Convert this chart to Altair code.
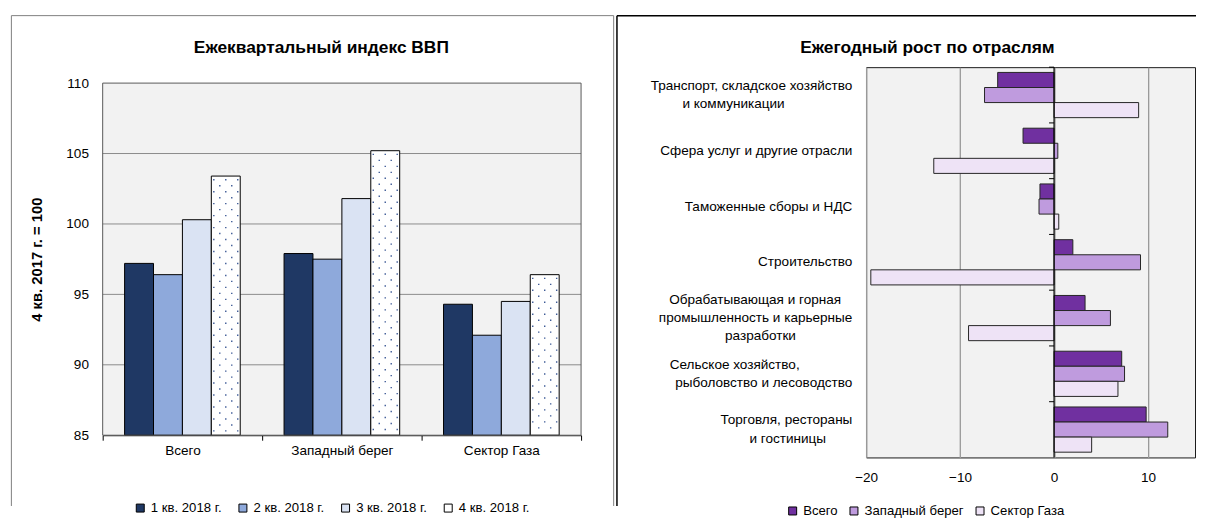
import altair as alt
import pandas as pd

FONT = "Liberation Sans, Arial, sans-serif"
FS = 13.6      # tick / axis label font size
FS_L = 13.2    # legend labels
FS_T = 17.4    # chart titles
FS_YT = 14.8   # y axis title
NB = "\u00a0"
ZW = "\u200b"

# ---------------- data: left chart ----------------
regions = ["Всего", "Западный берег", "Сектор Газа"]
quarters = ["1 кв. 2018 г.", "2 кв. 2018 г.", "3 кв. 2018 г.", "4 кв. 2018 г."]
q1_2018 = [97.2, 97.9, 94.3]
q2_2018 = [96.4, 97.5, 92.1]
q3_2018 = [100.3, 101.8, 94.5]
q4_2018 = [103.4, 105.2, 96.4]
quarter_colors = ["#1F3864", "#8EA9DB", "#DAE3F3", "#FFFFFF"]
y_ticks = [85, 90, 95, 100, 105, 110]

# ---------------- data: right chart ----------------
sector_lines = [
    ["Транспорт, складское хозяйство", "и коммуникации"],
    ["Сфера услуг и другие отрасли"],
    ["Таможенные сборы и НДС"],
    ["Строительство"],
    ["Обрабатывающая и горная", "промышленность и карьерные", "разработки"],
    ["Сельское хозяйство,", "рыболовство и лесоводство"],
    ["Торговля, рестораны", "и гостиницы"],
]
sectors = [" ".join(l) for l in sector_lines]
series = ["Всего", "Западный берег", "Сектор Газа"]
growth_total = [-6.0, -3.3, -1.5, 2.0, 3.3, 7.2, 9.8]
growth_west = [-7.4, 0.4, -1.6, 9.2, 6.0, 7.5, 12.1]
growth_gaza = [9.0, -12.8, 0.5, -19.5, -9.1, 6.8, 4.0]
series_colors = ["#7030A0", "#BF9BDE", "#EEE3F6"]

# trailing no-break spaces that centre the shorter wrapped lines (layout only)
line_indent = {
    "и коммуникации": 18,
    "Обрабатывающая и горная": 3,
    "разработки": 15,
    "Сельское хозяйство,": 14,
    "и гостиницы": 7,
}

left_rows = []
for vals, q in zip([q1_2018, q2_2018, q3_2018, q4_2018], quarters):
    for r, v in zip(regions, vals):
        left_rows.append({"region": r, "quarter": q, "value": v})
df_left = pd.DataFrame(left_rows)
df_q4 = df_left[df_left["quarter"] == quarters[3]]
df_grid = pd.DataFrame({"tick": y_ticks[1:-1]})

right_rows = []
for vals, s in zip([growth_total, growth_west, growth_gaza], series):
    for sec, v in zip(sectors, vals):
        right_rows.append({"sector": sec, "series": s, "value": v})
df_right = pd.DataFrame(right_rows)
df_sectors = pd.DataFrame({"sector": sectors})

one = alt.Data(values=[{"k": 1}])

# ---------------- layout (absolute page px) ----------------
FRAME_L, FRAME_T, DIVIDER, FRAME_R, FRAME_B = 10.7, 14.0, 615.0, 1196.0, 506.0
LX, LY, LW, LH = 102.3, 81.7, 480.0, 353.3
RX, RY, RW, RH = 865.0, 65.7, 330.0, 391.6
OY = RY             # common view origin (both panels)
D = LY - OY         # left plot starts D px below its view origin
TITLE_Y = 46.7
LINE_H = 18.3


def frame(x0, y0, color, width, segs):
    layers = []
    for (xa, ya, xb, yb) in segs:
        layers.append(
            alt.Chart(one).mark_rule(color=color, strokeWidth=width).encode(
                x=alt.value(xa - x0), y=alt.value(ya - y0),
                x2=alt.value(xb - x0), y2=alt.value(yb - y0))
        )
    return layers


def js_str(s):
    return "'" + s.replace("'", "\\'") + "'"


# label arrays: 5 half-height slots so every block is centred on its band
def slots(lines):
    padded = [ln + (NB * line_indent[ln] + ZW if ln in line_indent else "") for ln in lines]
    if len(padded) == 1:
        arr = [ZW, ZW, padded[0], ZW, ZW]
    elif len(padded) == 2:
        arr = [ZW, padded[0], ZW, padded[1], ZW]
    else:
        arr = [padded[0], ZW, padded[1], ZW, padded[2]]
    return "[" + ", ".join(js_str(a) for a in arr) + "]"


label_expr = "''"
for name, lines in reversed(list(zip(sectors, sector_lines))):
    label_expr = f"datum.value == {js_str(name)} ? {slots(lines)} : ({label_expr})"

# ---------------- left chart ----------------
sub_pad = 0.758
sub_step = LW / 3 / (4 + 2 * sub_pad)
q4_center = 1.5 * sub_step

left_frame = frame(LX, OY, "#7F7F7F", 1, [
    (FRAME_L, FRAME_T, DIVIDER, FRAME_T),
    (FRAME_L, FRAME_T, FRAME_L, FRAME_B),
    (DIVIDER, FRAME_T, DIVIDER, FRAME_B),
])

y_scale_left = alt.Scale(domain=[85, 110], range=[D + LH, D], nice=False, zero=False)

plot_bg = alt.Chart(one).mark_rect(fill="#F2F2F2").encode(
    x=alt.value(0), x2=alt.value(LW), y=alt.value(D), y2=alt.value(D + LH))

grid_left = alt.Chart(df_grid).mark_rule(color="#8C8C8C", strokeWidth=1).encode(
    y=alt.Y("tick:Q", scale=y_scale_left))

left_bars = alt.Chart(df_left).mark_bar(stroke="black", strokeWidth=1).encode(
    x=alt.X("region:N", sort=regions, title=None,
            scale=alt.Scale(paddingInner=0, paddingOuter=0),
            axis=alt.Axis(domain=True, domainColor="black", domainWidth=1,
                          ticks=True, tickBand="extent", tickSize=5, tickColor="black",
                          labelPadding=3, labelAngle=0, grid=False, labelFontSize=FS)),
    xOffset=alt.XOffset("quarter:N", sort=quarters,
                        scale=alt.Scale(paddingInner=0, paddingOuter=sub_pad)),
    y=alt.Y("value:Q", scale=y_scale_left,
            axis=alt.Axis(values=y_ticks, grid=False, domain=False, ticks=False,
                          tickSize=0, labelPadding=LX - 88, labelFontSize=FS,
                          title="4 кв. 2017 г. = 100", titleAngle=270,
                          titleX=36.7 - LX, titleY=D + LH / 2, titleAlign="center",
                          titleBaseline="middle", titleFontSize=FS_YT,
                          titleFontWeight="bold")),
    y2=alt.Y2Datum(85),
    color=alt.Color("quarter:N", sort=quarters,
                    scale=alt.Scale(domain=quarters, range=quarter_colors),
                    legend=alt.Legend(title=None, orient="none", direction="horizontal",
                                      legendX=136.7 - LX - 3.3, legendY=506.7 - OY - 5.3,
                                      symbolType="square", symbolSize=64,
                                      symbolStrokeColor="black", symbolStrokeWidth=1,
                                      labelFontSize=FS_L, labelOffset=4, columnPadding=14,
                                      padding=0)),
)

dots = []
for i, off in enumerate([-12, -6, 0, 6, 12]):
    dots.append(
        alt.Chart(df_q4).mark_rule(
            xOffset=q4_center + off, strokeDash=[1.4, 10.6],
            strokeDashOffset=-3 if i % 2 == 0 else -9,
            color="#3D5A96", strokeWidth=1.4).encode(
            x=alt.X("region:N", sort=regions),
            y=alt.Y("value:Q", scale=y_scale_left),
            y2=alt.value(D + LH - 2))
    )

plot_border = alt.Chart(one).mark_rect(
    fill="#FFFFFF", fillOpacity=0, stroke="#595959", strokeWidth=1).encode(
    x=alt.value(0), x2=alt.value(LW), y=alt.value(D), y2=alt.value(D + LH))

left_title = alt.Chart(one).mark_text(
    text="Ежеквартальный индекс ВВП", font=FONT, fontSize=FS_T, fontWeight="bold",
    align="center", baseline="middle", color="black").encode(
    x=alt.value(321.7 - LX), y=alt.value(TITLE_Y - OY))

left = alt.layer(*left_frame, plot_bg, grid_left, left_bars, *dots, plot_border,
                 left_title).properties(
    width=LW, height=D + LH,
    view=alt.ViewBackground(fill="#FFFFFF", strokeOpacity=0))

# ---------------- right chart ----------------
right_frame = frame(RX, OY, "black", 1.5, [
    (DIVIDER, FRAME_T, FRAME_R, FRAME_T),
    (DIVIDER, FRAME_T, DIVIDER, FRAME_B),
])

right_bars = alt.Chart(df_right).mark_bar(stroke="#262626", strokeWidth=1).encode(
    y=alt.Y("sector:N", sort=sectors, title=None,
            scale=alt.Scale(paddingInner=0, paddingOuter=0),
            axis=alt.Axis(orient="left", labelExpr=label_expr,
                          labelAlign="right", labelBaseline="middle",
                          labelPadding=RX - 850.7, labelLineHeight=LINE_H / 2,
                          labelOffset=-LINE_H, domain=False, ticks=False, tickSize=0,
                          grid=False, labelFontSize=FS, labelLimit=400)),
    yOffset=alt.YOffset("series:N", sort=series,
                        scale=alt.Scale(paddingInner=0, paddingOuter=0.35)),
    x=alt.X("value:Q", title=None, scale=alt.Scale(domain=[-20, 15], nice=False),
            axis=alt.Axis(values=[-20, -10, 0, 10], grid=True, gridColor="#999999",
                          gridWidth=1.3, domain=False, ticks=False, tickSize=0,
                          labelPadding=13.5, labelFontSize=FS, labelAngle=0,
                          labelFlush=False)),
    color=alt.Color("series:N", sort=series,
                    scale=alt.Scale(domain=series, range=series_colors),
                    legend=alt.Legend(title=None, orient="none", direction="horizontal",
                                      legendX=790.7 - RX - 6, legendY=508.3 - OY - 4,
                                      symbolType="square", symbolSize=64,
                                      symbolStrokeColor="black", symbolStrokeWidth=1,
                                      labelFontSize=FS_L, labelOffset=4, columnPadding=9.5,
                                      padding=0)),
)

zero_line = alt.Chart(one).mark_rule(color="black", strokeWidth=1.2).encode(
    x=alt.datum(0))

zero_ticks = alt.Chart(df_sectors).mark_rule(color="black", strokeWidth=1, x2Offset=-5).encode(
    y=alt.Y("sector:N", sort=sectors, bandPosition=0),
    x=alt.datum(0), x2=alt.datum(0))

right_title = alt.Chart(one).mark_text(
    text="Ежегодный рост по отраслям", font=FONT, fontSize=FS_T, fontWeight="bold",
    align="center", baseline="middle", color="black").encode(
    x=alt.value(926.5 - RX), y=alt.value(TITLE_Y - OY))

right = alt.layer(*right_frame, right_bars, zero_line, zero_ticks, right_title).properties(
    width=RW, height=RH,
    view=alt.ViewBackground(fill="#F2F2F2", stroke="#1A1A1A", strokeWidth=1))

chart = alt.hconcat(left, right, spacing=0).resolve_scale(
    color="independent").properties(
    padding={"left": 2, "top": 5.5, "right": 0, "bottom": 0},
    background="white",
).configure(font=FONT).configure_axis(
    labelFont=FONT, titleFont=FONT, labelColor="black", titleColor="black"
).configure_legend(labelFont=FONT, labelColor="black")

chart.save("out.html", embed_options={"renderer": "svg", "actions": False})
